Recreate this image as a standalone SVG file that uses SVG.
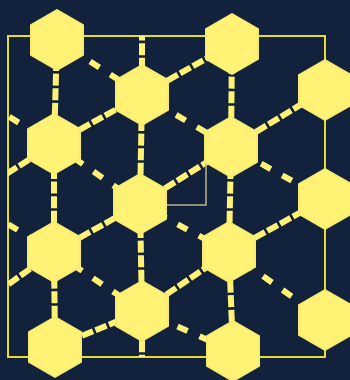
<svg xmlns="http://www.w3.org/2000/svg" xmlns:xlink="http://www.w3.org/1999/xlink" width="350" height="380" viewBox="0 0 350 380">
<defs>
<style>
.bg{fill:#13223c}
.frame{fill:none;stroke:#e6dc2a;stroke-width:2}
.e{fill:none;stroke:#fff275;stroke-width:6;stroke-linecap:butt}
.d{stroke-dasharray:12 2.6}
.s{stroke-dasharray:11 13}
.elbow{fill:none;stroke:#b9b48e;stroke-width:1.5}
.hex{fill:#fff275;stroke:#f8ec70;stroke-width:2;stroke-linejoin:round}
</style>
<polygon id="hx" class="hex" points="0,-30 26,-15 26,15 0,30 -26,15 -26,-15"/>
<clipPath id="clip"><rect x="8" y="36" width="317" height="321"/></clipPath>
</defs>
<rect class="bg" x="0" y="0" width="350" height="380"/>
<rect class="frame" x="8" y="36" width="317" height="321"/>
<g id="connectors" clip-path="url(#clip)">
<path class="e d" d="M54,144 L57,40"/>
<path class="e s" d="M57,40 L142,95" stroke-dashoffset="8.5"/>
<path class="e d" d="M142,95 L232,44"/>
<path class="e d" d="M231,147 L232,44"/>
<path class="e d" d="M231,147 L325,90"/>
<path class="e d" d="M54,144 L142,95"/>
<path class="e s" d="M142,95 L231,147" stroke-dashoffset="8.5"/>
<path class="e d" d="M140,204 L142,95"/>
<path class="e d" d="M142,95 L142,-10" stroke-dashoffset="4"/>
<path class="e s" d="M54,144 L140,204" stroke-dashoffset="-0.2"/>
<path class="e d" d="M54,252 L54,144"/>
<path class="e s" d="M-35,90 L54,144" stroke-dashoffset="20.2"/>
<path class="e d" d="M54,144 L-35,200"/>
<path class="e d" d="M140,204 L231,147"/>
<path class="e s" d="M231,147 L325,199" stroke-dashoffset="13.5"/>
<path class="e d" d="M229,252 L231,147"/>
<path class="e d" d="M54,252 L140,204"/>
<path class="e s" d="M140,204 L229,252" stroke-dashoffset="5.2"/>
<path class="e d" d="M142,311 L140,204"/>
<path class="e d" d="M229,252 L325,199"/>
<path class="e s" d="M54,252 L142,311" stroke-dashoffset="1.1"/>
<path class="e d" d="M55,347 L54,252"/>
<path class="e s" d="M-35,198 L54,252" stroke-dashoffset="21.4"/>
<path class="e d" d="M54,252 L-35,315"/>
<path class="e d" d="M142,311 L229,252"/>
<path class="e s" d="M229,252 L325,320" stroke-dashoffset="6.3"/>
<path class="e d" d="M233,351 L229,252"/>
<path class="e d" d="M55,347 L142,311"/>
<path class="e s" d="M142,311 L233,351" stroke-dashoffset="9.2"/>
<path class="e d" d="M142,311 L142,420"/>
<path class="elbow" d="M166,205 H206 V160"/>
</g>
<g id="n1" transform="translate(57,40)"><use xlink:href="#hx"/></g>
<g id="n2" transform="translate(232,44)"><use xlink:href="#hx"/></g>
<g id="n3" transform="translate(325,90)"><use xlink:href="#hx"/></g>
<g id="n4" transform="translate(142,95)"><use xlink:href="#hx"/></g>
<g id="n5" transform="translate(54,144)"><use xlink:href="#hx"/></g>
<g id="n6" transform="translate(231,147)"><use xlink:href="#hx"/></g>
<g id="n7" transform="translate(140,204)"><use xlink:href="#hx"/></g>
<g id="n8" transform="translate(325,199)"><use xlink:href="#hx"/></g>
<g id="n9" transform="translate(54,252)"><use xlink:href="#hx"/></g>
<g id="n10" transform="translate(229,252)"><use xlink:href="#hx"/></g>
<g id="n11" transform="translate(142,311)"><use xlink:href="#hx"/></g>
<g id="n12" transform="translate(325,320)"><use xlink:href="#hx"/></g>
<g id="n13" transform="translate(55,347)"><use xlink:href="#hx"/></g>
<g id="n14" transform="translate(233,351)"><use xlink:href="#hx"/></g>
</svg>
